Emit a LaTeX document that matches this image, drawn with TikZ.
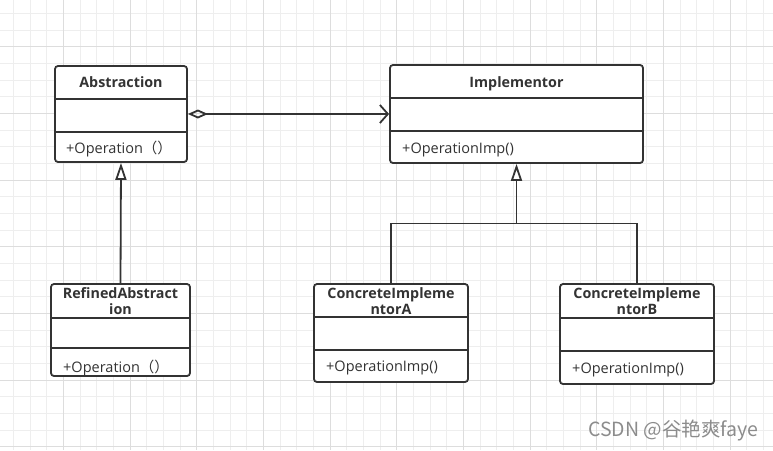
\documentclass[tikz,border=0pt]{standalone}
\usepackage{fontspec}
\setmainfont{Open Sans}
\newfontfamily\cjk{Noto Sans CJK SC}
\usetikzlibrary{arrows.meta,calc}
\definecolor{ink}{HTML}{333333}
\definecolor{gminor}{HTML}{EEEEEE}
\definecolor{gmajor}{HTML}{DDDDDD}
\definecolor{wm}{HTML}{8C8C8C}
\tikzset{
  umlbox/.style={draw=ink, line width=1.8pt, rounded corners=3pt, fill=white, inner sep=0pt},
  divider/.style={draw=ink, line width=1.8pt},
  title/.style={font=\fontsize{14.3}{16}\selectfont\bfseries, text=ink, align=center, inner sep=0pt, anchor=base},
  member/.style={font=\fontsize{14.5}{16}\selectfont, text=ink, anchor=base west, inner sep=0pt},
  conn/.style={draw=ink, line width=1.8pt},
  inherit/.style={conn, -{Triangle[open, length=17pt, width=11pt, line width=1.8pt]}},
}
\begin{document}
\begin{tikzpicture}[x=1pt,y=-1pt]
\useasboundingbox (0,0) rectangle (773,450);
\fill[white] (0,0) rectangle (773,450);
% grid
\foreach \i in {0,...,45} {
  \draw[gminor, line width=0.8pt] ({13.33+16.667*\i},0) -- ++(0,450);
}
\foreach \i in {0,...,26} {
  \draw[gminor, line width=0.8pt] (0,{13.33+16.667*\i}) -- ++(773,0);
}
\foreach \i in {0,...,11} {
  \draw[gmajor, line width=0.8pt] ({63.33+66.667*\i},0) -- ++(0,450);
}
\foreach \i in {0,...,6} {
  \draw[gmajor, line width=0.8pt] (0,{46.67+66.667*\i}) -- ++(773,0);
}

% Abstraction
\node[umlbox, minimum width=132pt, minimum height=96pt] (abs) at (121,114) {};
\draw[divider] (55,99) -- (187,99);
\draw[divider] (55,132) -- (187,132);
\node[title] (absT) at (121,87) {Abstraction};
\node[member] (absO) at (66,153) {+Operation{\cjk（）}};

% Implementor
\node[umlbox, minimum width=253pt, minimum height=98pt] (imp) at (516.5,114) {};
\draw[divider] (390,98) -- (643,98);
\draw[divider] (390,131) -- (643,131);
\node[title] (impT) at (516.5,87) {Implementor};
\node[member] (impO) at (402,153) {+OperationImp()};

% RefinedAbstraction
\node[umlbox, minimum width=139pt, minimum height=92pt] (ref) at (120.5,330) {};
\draw[divider] (51,318) -- (190,318);
\draw[divider] (51,348) -- (190,348);
\node[title] (refT) at (120.5,314.3) {RefinedAbstract\\ion};
\node[member] (refO) at (63,372) {+Operation{\cjk（）}};

% ConcreteImplementorA
\node[umlbox, minimum width=154pt, minimum height=98pt] (ca) at (391,333) {};
\draw[divider] (314,317) -- (468,317);
\draw[divider] (314,350) -- (468,350);
\node[title] (caT) at (391,314) {ConcreteImpleme\\ntorA};
\node[member] (caO) at (326,371.5) {+OperationImp()};

% ConcreteImplementorB
\node[umlbox, minimum width=154pt, minimum height=100pt] (cb) at (637,334) {};
\draw[divider] (560,318) -- (714,318);
\draw[divider] (560,351) -- (714,351);
\node[title] (cbT) at (637,314.3) {ConcreteImpleme\\ntorB};
\node[member] (cbO) at (572,373.5) {+OperationImp()};

% connectors
\draw[conn, {Diamond[open, length=20pt, width=9pt, line width=1.8pt]}-{Straight Barb[length=8pt, width=18pt, line width=1.8pt]}] (abs.east) -- (imp.west);
\draw[inherit] (ref.north) -- (abs.south);
\coordinate (j) at (516.5,223.5);
\draw[conn] (ca.north) |- (j) -| (cb.north);
\draw[inherit] (j) -- (imp.south);

% watermark
\node[font=\cjk\fontsize{19.5}{22}\selectfont, text=wm, anchor=west, inner sep=0pt] (wmk) at (588,430) {CSDN @谷艳爽faye};
\end{tikzpicture}
\end{document}
